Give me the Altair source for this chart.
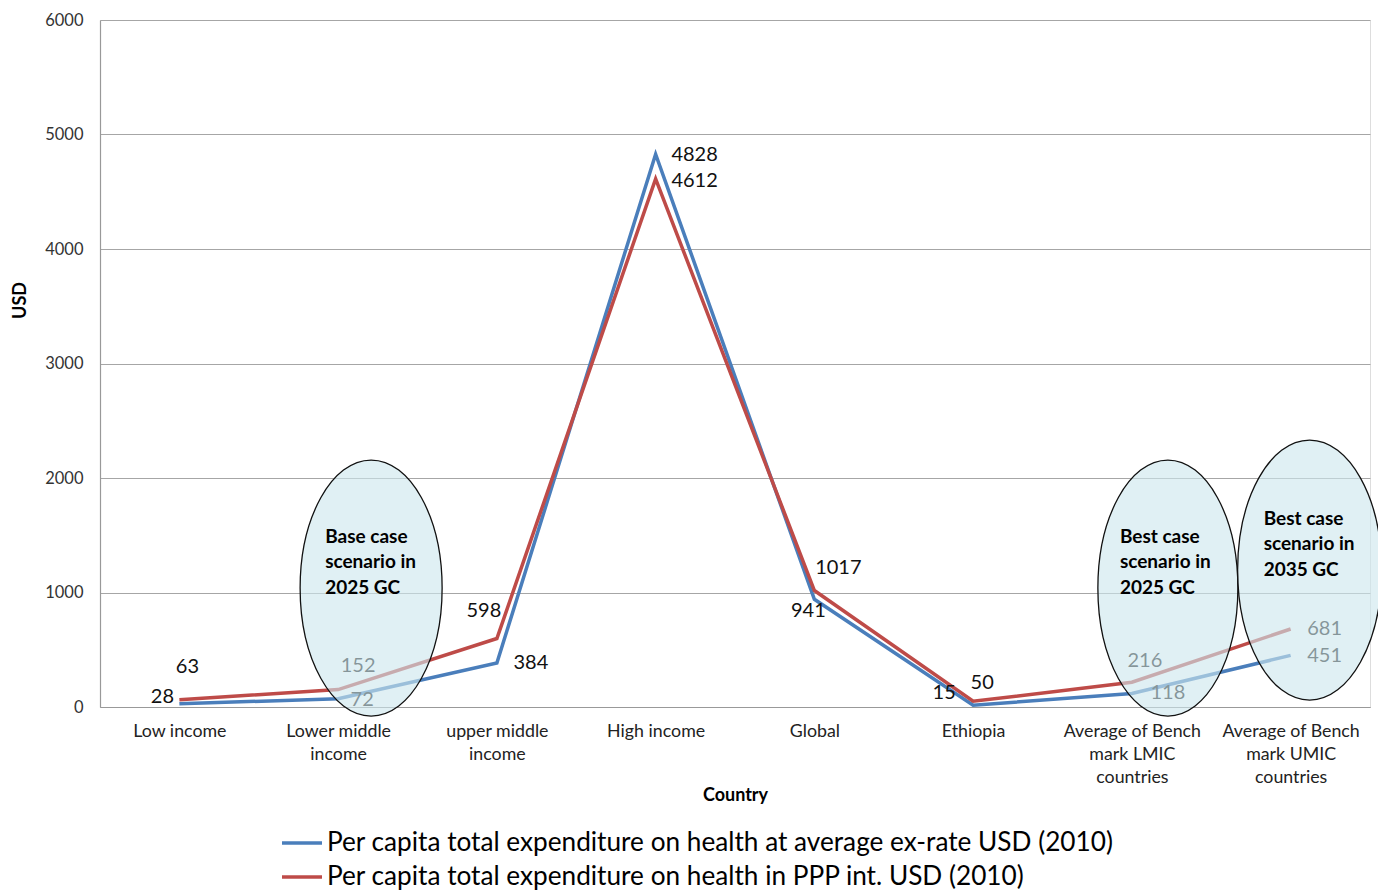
import altair as alt
import pandas as pd

# ---------------- data ----------------
categories = [
    "Low income",
    "Lower middle|income",
    "upper middle|income",
    "High  income",
    "Global",
    "Ethiopia",
    "Average of Bench|mark LMIC|countries",
    "Average of Bench|mark UMIC|countries",
]
series_names = [
    "Per capita total expenditure on health at average ex-rate USD (2010)",
    "Per capita total expenditure on health in PPP int. USD (2010)",
]
exrate_values = [28, 72, 384, 4828, 941, 15, 118, 451]
ppp_values = [63, 152, 598, 4612, 1017, 50, 216, 681]
series_colors = ["#4a7ebb", "#be4b48"]

# label offsets (pixels) for the data labels
exrate_label_offsets = [(-17, -7), (24, 1), (34, 0), (39, 1), (-6, 12), (-29, -12), (36, 0), (34, 1)]
ppp_label_offsets = [(8, -33), (20, -24), (-13, -28), (39, 2), (24, -23), (9, -18), (13, -21), (34, 0)]

# scenario ellipses
ellipse_categories = [categories[1], categories[6], categories[7]]
ellipse_center_values = [1039, 1039, 1196]
ellipse_geom = [(33, 71, 128), (36, 70, 128), (19, 72, 130)]  # shift, rx, ry in px
ellipse_texts = ["Base case\nscenario in\n2025 GC", "Best case\nscenario in\n2025 GC", "Best case\nscenario in\n2035 GC"]
ellipse_text_values = [1485, 1485, 1642]
ellipse_text_dx = [-13, -12, -27]

FONT = "Lato"

# ---------------- build tables ----------------
rows = []
for s, vals in zip(series_names, [exrate_values, ppp_values]):
    for c, v in zip(categories, vals):
        rows.append({"category": c, "series": s, "value": v})
lines_df = pd.DataFrame(rows)

UNIT = 129.0
K = 0.5523


def ellipse_path(shift, rx, ry):
    cx, a, b = shift / UNIT, rx / UNIT, ry / UNIT
    f = lambda v: f"{v:.4f}"
    return (
        f"M {f(cx + a)} 0 "
        f"C {f(cx + a)} {f(K * b)} {f(cx + K * a)} {f(b)} {f(cx)} {f(b)} "
        f"C {f(cx - K * a)} {f(b)} {f(cx - a)} {f(K * b)} {f(cx - a)} 0 "
        f"C {f(cx - a)} {f(-K * b)} {f(cx - K * a)} {f(-b)} {f(cx)} {f(-b)} "
        f"C {f(cx + K * a)} {f(-b)} {f(cx + a)} {f(-K * b)} {f(cx + a)} 0 Z"
    )


ell_df = pd.DataFrame({
    "category": ellipse_categories,
    "value": ellipse_center_values,
    "shape": [ellipse_path(*g) for g in ellipse_geom],
})

x_enc = alt.X(
    "category:N",
    sort=categories,
    scale=alt.Scale(domain=categories, type="point", padding=0.5),
    axis=alt.Axis(
        title="Country",
        titleFont=FONT, titleFontSize=18, titleFontWeight="bold", titleColor="#000",
        titleY=88, titleBaseline="middle",
        labelExpr="split(datum.label, '|')",
        labelFont=FONT, labelFontSize=17.8, labelColor="#222", labelLineHeight=23,
        labelAngle=0, labelPadding=24, labelBaseline="middle",
        ticks=False, domainColor="#999", domainWidth=1.2, grid=False,
    ),
)
y_scale = alt.Scale(domain=[0, 6000], nice=False)
y_enc = alt.Y(
    "value:Q",
    scale=y_scale,
    axis=alt.Axis(
        title="USD", titleFont=FONT, titleFontSize=18, titleFontWeight="bold", titleColor="#000",
        titleX=-80, titleY=280, titleAngle=-90, titleBaseline="middle",
        values=[0, 1000, 2000, 3000, 4000, 5000, 6000], format="d",
        labelFont=FONT, labelFontSize=16.5, labelColor="#333", labelPadding=17,
        ticks=False, domainColor="#999", domainWidth=1.2,
        grid=True, gridColor="#a6a6a6", gridWidth=1.2,
    ),
)

lines = alt.Chart(lines_df).mark_line(strokeWidth=3.5).encode(
    x=x_enc,
    y=y_enc,
    color=alt.Color(
        "series:N",
        scale=alt.Scale(domain=series_names, range=series_colors),
        sort=series_names,
        legend=alt.Legend(
            title=None, orient="none", legendX=180, legendY=808, direction="vertical",
            symbolType="stroke", symbolSize=1600, symbolStrokeWidth=3.5,
            labelFont=FONT, labelFontSize=26.2, labelColor="#000", labelLimit=1000,
            labelOffset=3, clipHeight=30, rowPadding=4, padding=0,
        ),
    ),
    order=alt.Order("series:N"),
    detail="series:N",
)

label_layers = []
for vals, offs in [(exrate_values, exrate_label_offsets), (ppp_values, ppp_label_offsets)]:
    for c, v, (dx, dy) in zip(categories, vals, offs):
        d = pd.DataFrame({"category": [c], "value": [v], "label": [str(v)]})
        label_layers.append(
            alt.Chart(d).mark_text(
                dx=dx, dy=dy, align="center", baseline="middle",
                font=FONT, fontSize=20, color="#111",
            ).encode(
                x=alt.X("category:N", sort=categories),
                y=alt.Y("value:Q", scale=y_scale),
                text="label:N",
            )
        )

ellipses = alt.Chart(ell_df).mark_point(
    filled=True, fill="#cde7ee", fillOpacity=0.62, stroke="#111", strokeWidth=1.3,
    strokeOpacity=1, opacity=1, size=(2 * UNIT) ** 2,
).encode(
    x=alt.X("category:N", sort=categories),
    y=alt.Y("value:Q", scale=y_scale),
    shape=alt.Shape("shape:N", scale=None, legend=None),
)

ell_text_layers = []
for c, t, v, dx in zip(ellipse_categories, ellipse_texts, ellipse_text_values, ellipse_text_dx):
    d = pd.DataFrame({"category": [c], "value": [v], "label": [t]})
    ell_text_layers.append(
        alt.Chart(d).mark_text(
            dx=dx, align="left", baseline="middle", lineBreak="\n", lineHeight=25.5,
            font=FONT, fontSize=19, fontWeight="bold", color="#000",
        ).encode(
            x=alt.X("category:N", sort=categories),
            y=alt.Y("value:Q", scale=y_scale),
            text="label:N",
        )
    )

chart = alt.layer(lines, *label_layers, ellipses, *ell_text_layers).properties(
    width=1270, height=687,
    padding={"left": 92, "top": 12, "right": 8, "bottom": 185},
    autosize=alt.AutoSizeParams(type="none"),
).configure_view(stroke=None).configure(background="white")

chart.save("out.html", embed_options={"renderer": "svg", "actions": False})
